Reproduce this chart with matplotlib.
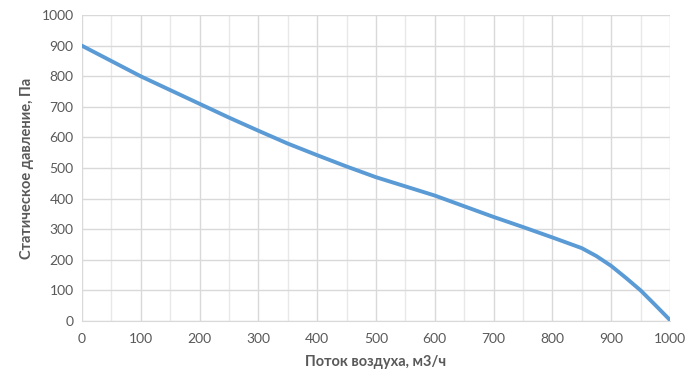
import matplotlib.pyplot as plt
from matplotlib.ticker import MultipleLocator

plt.rcParams["font.family"] = ["Lato", "DejaVu Sans"]

# fan curve
flow = [0, 50, 100, 150, 200, 250, 300, 350, 400, 450, 500,
        550, 600, 650, 700, 750, 800, 850, 875, 900, 925, 950, 975, 1000]
pressure = [900, 850, 800, 755, 710, 665, 622, 580, 542, 505, 470,
            440, 410, 375, 340, 307, 273, 238, 212, 180, 141, 100, 52, 3]

x_label = "Поток воздуха, м3/ч"
y_label = "Статическое давление, Па"

text_grey = "#595959"

fig = plt.figure(figsize=(7, 3.88), dpi=100)
ax = fig.add_axes([0.117, 0.173, 0.84, 0.788])

ax.plot(flow, pressure, color="#5B9BD5", linewidth=2.8,
        solid_capstyle="round", solid_joinstyle="round", zorder=3)

ax.set_xlim(0, 1000)
ax.set_ylim(0, 1000)
ax.xaxis.set_major_locator(MultipleLocator(100))
ax.xaxis.set_minor_locator(MultipleLocator(50))
ax.yaxis.set_major_locator(MultipleLocator(100))

ax.grid(which="major", color="#D9D9D9", linewidth=1.0)
ax.grid(which="minor", axis="x", color="#E8E8E8", linewidth=1.0)
ax.set_axisbelow(True)

for side in ("top", "right", "left"):
    ax.spines[side].set_visible(False)
ax.spines["bottom"].set_color("#D9D9D9")

ax.tick_params(which="both", length=0, colors=text_grey, labelsize=10)
ax.tick_params(axis="x", pad=9)
ax.tick_params(axis="y", pad=6)

ax.set_xlabel(x_label, fontsize=10.5, fontweight="bold", color=text_grey, labelpad=7)
ax.set_ylabel(y_label, fontsize=10.5, fontweight="bold", color=text_grey, labelpad=5)

fig.savefig("out.png", dpi=100)
